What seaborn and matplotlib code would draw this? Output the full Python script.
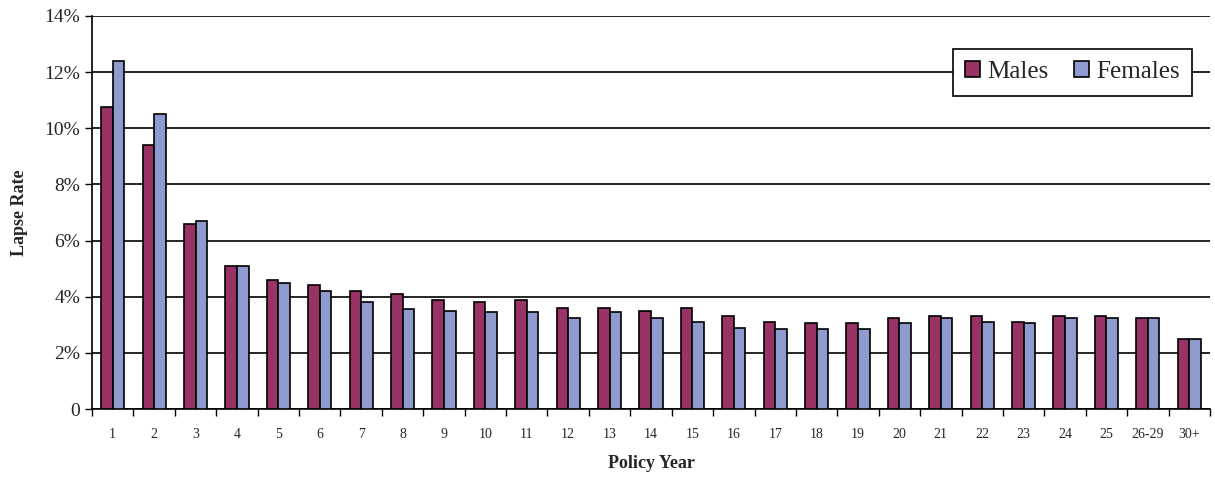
import numpy as np
import pandas as pd
import seaborn as sns
import matplotlib.pyplot as plt

years = [str(i) for i in range(1, 26)] + ["26-29", "30+"]
males = [10.75, 9.4, 6.6, 5.1, 4.6, 4.4, 4.2, 4.1, 3.9, 3.8, 3.9, 3.6, 3.6, 3.5,
         3.6, 3.3, 3.1, 3.05, 3.05, 3.25, 3.3, 3.3, 3.1, 3.3, 3.3, 3.25, 2.5]
females = [12.4, 10.5, 6.7, 5.1, 4.5, 4.2, 3.8, 3.55, 3.5, 3.45, 3.45, 3.25, 3.45, 3.25,
           3.1, 2.9, 2.85, 2.85, 2.85, 3.05, 3.25, 3.1, 3.05, 3.25, 3.25, 3.25, 2.5]

df = pd.DataFrame({"year": years * 2,
                   "rate": males + females,
                   "sex": ["Males"] * len(years) + ["Females"] * len(years)})

sns.set_theme(style="white")
plt.rcParams["font.family"] = ["Liberation Serif", "DejaVu Serif"]

fig = plt.figure(figsize=(12.15, 4.95), dpi=100)
ax = fig.add_axes([92 / 1215, 1 - 409 / 495, 1118 / 1215, 393 / 495])
sns.barplot(data=df, x="year", y="rate", hue="sex", order=years,
            palette={"Males": "#993366", "Females": "#8F9ACF"},
            width=0.56, edgecolor="black", linewidth=1.2, saturation=1, ax=ax, zorder=3)

ax.set_ylim(0, 14)
ax.set_xlim(-0.5, len(years) - 0.5)
ax.set_yticks(range(0, 15, 2))
ax.set_yticklabels(["0"] + [f"{v}%" for v in range(2, 15, 2)], fontsize=14)
ax.yaxis.grid(True, color="black", linewidth=1.2, zorder=0)
ax.set_axisbelow(True)
ax.set_xticks(range(len(years)))
ax.set_xticklabels(years, fontsize=10)
ax.tick_params(axis="x", length=0, pad=14)
ax.tick_params(axis="y", left=True, length=5, width=1, color="black")
ax.set_xticks(np.arange(-0.5, len(years), 1), minor=True)
ax.tick_params(axis="x", which="minor", bottom=True, length=5, width=1, color="black")
for s in ["top", "right"]:
    ax.spines[s].set_visible(False)
for s in ["left", "bottom"]:
    ax.spines[s].set_color("black")
    ax.spines[s].set_linewidth(1.2)

ax.set_xlabel("Policy Year", fontsize=13, fontweight="bold", labelpad=10)
ax.set_ylabel("Lapse Rate", fontsize=13, fontweight="bold", labelpad=12)
leg = ax.legend(title="", loc="center right", bbox_to_anchor=(0.9955, 12 / 14), ncol=2,
                fontsize=18, frameon=True, fancybox=False, edgecolor="black", framealpha=1,
                handlelength=0.6, handleheight=0.6, handletextpad=0.3, columnspacing=1.0,
                borderpad=0.5)
leg.get_frame().set_linewidth(1.2)
fig.savefig("out.png")
